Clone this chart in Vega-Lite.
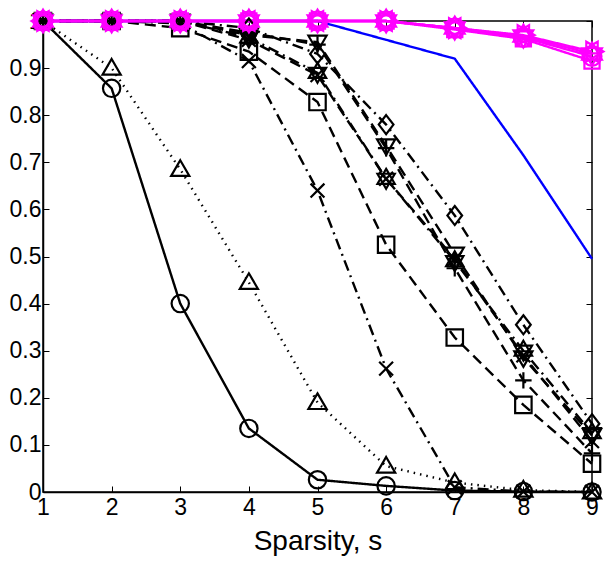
{
  "$schema": "https://vega.github.io/schema/vega-lite/v6.json",
  "width": 549,
  "height": 471,
  "autosize": {"type": "none"},
  "padding": {"left": 43, "top": 21, "right": 16, "bottom": 73},
  "background": "white",
  "config": {
    "view": {"stroke": "black", "strokeWidth": 1.5},
    "font": "Liberation Sans",
    "axis": {
      "grid": false,
      "domainColor": "black",
      "domainWidth": 1.5,
      "tickColor": "black",
      "tickWidth": 1,
      "labelColor": "black",
      "titleColor": "black",
      "labelFont": "Liberation Sans",
      "titleFont": "Liberation Sans",
      "titleFontWeight": "normal"
    }
  },
  "data": {
    "values": [
      {"s": 1, "alg": "a1", "v": 1}, {"s": 2, "alg": "a1", "v": 0.857}, {"s": 3, "alg": "a1", "v": 0.40}, {"s": 4, "alg": "a1", "v": 0.135}, {"s": 5, "alg": "a1", "v": 0.026}, {"s": 6, "alg": "a1", "v": 0.013}, {"s": 7, "alg": "a1", "v": 0.003}, {"s": 8, "alg": "a1", "v": 0.001}, {"s": 9, "alg": "a1", "v": 0},
      {"s": 1, "alg": "a2", "v": 1}, {"s": 2, "alg": "a2", "v": 0.90}, {"s": 3, "alg": "a2", "v": 0.685}, {"s": 4, "alg": "a2", "v": 0.445}, {"s": 5, "alg": "a2", "v": 0.19}, {"s": 6, "alg": "a2", "v": 0.055}, {"s": 7, "alg": "a2", "v": 0.02}, {"s": 8, "alg": "a2", "v": 0.004}, {"s": 9, "alg": "a2", "v": 0},
      {"s": 1, "alg": "a3", "v": 1}, {"s": 2, "alg": "a3", "v": 1}, {"s": 3, "alg": "a3", "v": 0.995}, {"s": 4, "alg": "a3", "v": 0.915}, {"s": 5, "alg": "a3", "v": 0.64}, {"s": 6, "alg": "a3", "v": 0.262}, {"s": 7, "alg": "a3", "v": 0.01}, {"s": 8, "alg": "a3", "v": 0.001}, {"s": 9, "alg": "a3", "v": 0},
      {"s": 1, "alg": "a4", "v": 1}, {"s": 2, "alg": "a4", "v": 1}, {"s": 3, "alg": "a4", "v": 0.985}, {"s": 4, "alg": "a4", "v": 0.935}, {"s": 5, "alg": "a4", "v": 0.828}, {"s": 6, "alg": "a4", "v": 0.525}, {"s": 7, "alg": "a4", "v": 0.328}, {"s": 8, "alg": "a4", "v": 0.185}, {"s": 9, "alg": "a4", "v": 0.06},
      {"s": 1, "alg": "a5", "v": 1}, {"s": 2, "alg": "a5", "v": 1}, {"s": 3, "alg": "a5", "v": 1}, {"s": 4, "alg": "a5", "v": 0.985}, {"s": 5, "alg": "a5", "v": 0.93}, {"s": 6, "alg": "a5", "v": 0.78}, {"s": 7, "alg": "a5", "v": 0.587}, {"s": 8, "alg": "a5", "v": 0.355}, {"s": 9, "alg": "a5", "v": 0.145},
      {"s": 1, "alg": "a6", "v": 1}, {"s": 2, "alg": "a6", "v": 1}, {"s": 3, "alg": "a6", "v": 1}, {"s": 4, "alg": "a6", "v": 0.97}, {"s": 5, "alg": "a6", "v": 0.955}, {"s": 6, "alg": "a6", "v": 0.735}, {"s": 7, "alg": "a6", "v": 0.505}, {"s": 8, "alg": "a6", "v": 0.285}, {"s": 9, "alg": "a6", "v": 0.12},
      {"s": 1, "alg": "a7", "v": 1}, {"s": 2, "alg": "a7", "v": 1}, {"s": 3, "alg": "a7", "v": 1}, {"s": 4, "alg": "a7", "v": 0.965}, {"s": 5, "alg": "a7", "v": 0.89}, {"s": 6, "alg": "a7", "v": 0.665}, {"s": 7, "alg": "a7", "v": 0.49}, {"s": 8, "alg": "a7", "v": 0.30}, {"s": 9, "alg": "a7", "v": 0.125},
      {"s": 1, "alg": "a8", "v": 1}, {"s": 2, "alg": "a8", "v": 1}, {"s": 3, "alg": "a8", "v": 1}, {"s": 4, "alg": "a8", "v": 0.975}, {"s": 5, "alg": "a8", "v": 0.95}, {"s": 6, "alg": "a8", "v": 0.73}, {"s": 7, "alg": "a8", "v": 0.475}, {"s": 8, "alg": "a8", "v": 0.237}, {"s": 9, "alg": "a8", "v": 0.082},
      {"s": 1, "alg": "a9", "v": 1}, {"s": 2, "alg": "a9", "v": 1}, {"s": 3, "alg": "a9", "v": 1}, {"s": 4, "alg": "a9", "v": 0.96}, {"s": 5, "alg": "a9", "v": 0.885}, {"s": 6, "alg": "a9", "v": 0.665}, {"s": 7, "alg": "a9", "v": 0.495}, {"s": 8, "alg": "a9", "v": 0.29}, {"s": 9, "alg": "a9", "v": 0.108},
      {"s": 1, "alg": "b1", "v": 1}, {"s": 2, "alg": "b1", "v": 1}, {"s": 3, "alg": "b1", "v": 1}, {"s": 4, "alg": "b1", "v": 1}, {"s": 5, "alg": "b1", "v": 1}, {"s": 6, "alg": "b1", "v": 0.96}, {"s": 7, "alg": "b1", "v": 0.92}, {"s": 8, "alg": "b1", "v": 0.715}, {"s": 9, "alg": "b1", "v": 0.495},
      {"s": 1, "alg": "m1", "v": 1}, {"s": 2, "alg": "m1", "v": 1}, {"s": 3, "alg": "m1", "v": 1}, {"s": 4, "alg": "m1", "v": 1}, {"s": 5, "alg": "m1", "v": 1}, {"s": 6, "alg": "m1", "v": 1}, {"s": 7, "alg": "m1", "v": 0.985}, {"s": 8, "alg": "m1", "v": 0.968}, {"s": 9, "alg": "m1", "v": 0.93},
      {"s": 1, "alg": "m2", "v": 1}, {"s": 2, "alg": "m2", "v": 1}, {"s": 3, "alg": "m2", "v": 1}, {"s": 4, "alg": "m2", "v": 1}, {"s": 5, "alg": "m2", "v": 1}, {"s": 6, "alg": "m2", "v": 1}, {"s": 7, "alg": "m2", "v": 0.985}, {"s": 8, "alg": "m2", "v": 0.965}, {"s": 9, "alg": "m2", "v": 0.925},
      {"s": 1, "alg": "m3", "v": 1}, {"s": 2, "alg": "m3", "v": 1}, {"s": 3, "alg": "m3", "v": 1}, {"s": 4, "alg": "m3", "v": 1}, {"s": 5, "alg": "m3", "v": 1}, {"s": 6, "alg": "m3", "v": 1}, {"s": 7, "alg": "m3", "v": 0.982}, {"s": 8, "alg": "m3", "v": 0.962}, {"s": 9, "alg": "m3", "v": 0.915},
      {"s": 1, "alg": "m4", "v": 1}, {"s": 2, "alg": "m4", "v": 1}, {"s": 3, "alg": "m4", "v": 1}, {"s": 4, "alg": "m4", "v": 1}, {"s": 5, "alg": "m4", "v": 1}, {"s": 6, "alg": "m4", "v": 1}, {"s": 7, "alg": "m4", "v": 0.985}, {"s": 8, "alg": "m4", "v": 0.97}, {"s": 9, "alg": "m4", "v": 0.935}
    ]
  },
  "resolve": {"axis": {"x": "independent", "y": "independent"}},
  "layer": [
    {
      "mark": {"type": "line", "strokeWidth": 2.4, "clip": false},
      "encoding": {
        "x": {
          "field": "s", "type": "quantitative",
          "scale": {"domain": [1, 9], "nice": false, "zero": false},
          "axis": {"orient": "bottom", "values": [1, 2, 3, 4, 5, 6, 7, 8, 9], "tickSize": -6, "labelPadding": 10, "labelFontSize": 23, "labelFlush": false, "title": "Sparsity, s", "titleFontSize": 28, "titlePadding": 8}
        },
        "y": {
          "field": "v", "type": "quantitative",
          "scale": {"domain": [0, 1], "nice": false},
          "axis": {"orient": "left", "values": [0, 0.1, 0.2, 0.3, 0.4, 0.5, 0.6, 0.7, 0.8, 0.9, 1], "format": ".1~f", "tickSize": -6, "labelPadding": 8, "labelFontSize": 23, "labelFlush": false, "title": null}
        },
        "detail": {"field": "alg"},
        "color": {
          "field": "alg", "type": "nominal", "legend": null,
          "scale": {
            "domain": ["a1", "a2", "a3", "a4", "a5", "a6", "a7", "a8", "a9", "b1", "m1", "m2", "m3", "m4"],
            "range": ["black", "black", "black", "black", "black", "black", "black", "black", "black", "#0000ff", "#ff00ff", "#ff00ff", "#ff00ff", "#ff00ff"]
          }
        },
        "strokeDash": {
          "field": "alg", "type": "nominal", "legend": null,
          "scale": {
            "domain": ["a1", "a2", "a3", "a4", "a5", "a6", "a7", "a8", "a9", "b1", "m1", "m2", "m3", "m4"],
            "range": [[1, 0], [1.5, 5], [11, 5, 2, 5], [11, 6], [11, 5, 2, 5], [11, 6], [11, 5, 2, 5], [11, 6], [11, 6], [1, 0], [1, 0], [1, 0], [1, 0], [1, 0]]
          }
        },
        "order": {"field": "s"}
      }
    },
    {
      "mark": {"type": "point", "filled": false, "strokeWidth": 2.2, "opacity": 1, "clip": false},
      "transform": [{"filter": "datum.alg !== 'b1'"}],
      "encoding": {
        "x": {
          "field": "s", "type": "quantitative",
          "scale": {"domain": [1, 9], "nice": false, "zero": false},
          "axis": {"orient": "top", "values": [1, 2, 3, 4, 5, 6, 7, 8, 9], "tickSize": -6, "labels": false, "domain": false, "title": null}
        },
        "y": {
          "field": "v", "type": "quantitative",
          "scale": {"domain": [0, 1], "nice": false},
          "axis": {"orient": "right", "values": [0, 0.1, 0.2, 0.3, 0.4, 0.5, 0.6, 0.7, 0.8, 0.9, 1], "tickSize": -6, "labels": false, "domain": false, "title": null}
        },
        "size": {
          "field": "alg", "type": "nominal", "legend": null,
          "scale": {
            "type": "ordinal",
            "domain": ["a1", "a2", "a3", "a4", "a5", "a6", "a7", "a8", "a9", "m1", "m2", "m3", "m4"],
            "range": [300, 300, 300, 300, 300, 300, 300, 300, 300, 520, 360, 360, 520]
          }
        },
        "color": {
          "field": "alg", "type": "nominal", "legend": null,
          "scale": {
            "domain": ["a1", "a2", "a3", "a4", "a5", "a6", "a7", "a8", "a9", "b1", "m1", "m2", "m3", "m4"],
            "range": ["black", "black", "black", "black", "black", "black", "black", "black", "black", "#0000ff", "#ff00ff", "#ff00ff", "#ff00ff", "#ff00ff"]
          }
        },
        "shape": {
          "field": "alg", "type": "nominal", "legend": null,
          "scale": {
            "domain": ["a1", "a2", "a3", "a4", "a5", "a6", "a7", "a8", "a9", "m1", "m2", "m3", "m4"],
            "range": [
              "circle",
              "M0,-1.05L1.05,0.75L-1.05,0.75Z",
              "M-0.8,-0.8L0.8,0.8M-0.8,0.8L0.8,-0.8",
              "M-0.95,-0.95L0.95,-0.95L0.95,0.95L-0.95,0.95Z",
              "M0,-1.1L0.85,0L0,1.1L-0.85,0Z",
              "M0,1.05L1.05,-0.75L-1.05,-0.75Z",
              "M0,-1.15L1,0.58L-1,0.58ZM0,1.15L1,-0.58L-1,-0.58Z",
              "M-0.95,0L0.95,0M0,-0.95L0,0.95",
              "M-0.8,-0.8L0.8,0.8M-0.8,0.8L0.8,-0.8",
              "M0,-1L0.87,0.5L-0.87,0.5ZM0,1L0.87,-0.5L-0.87,-0.5Z",
              "circle",
              "M-0.8,-0.8L0.8,-0.8L0.8,0.8L-0.8,0.8Z",
              "M-1,0L0.5,0.87L0.5,-0.87ZM1,0L-0.5,0.87L-0.5,-0.87Z"
            ]
          }
        },
        "order": {"field": "alg"}
      }
    }
  ]
}
